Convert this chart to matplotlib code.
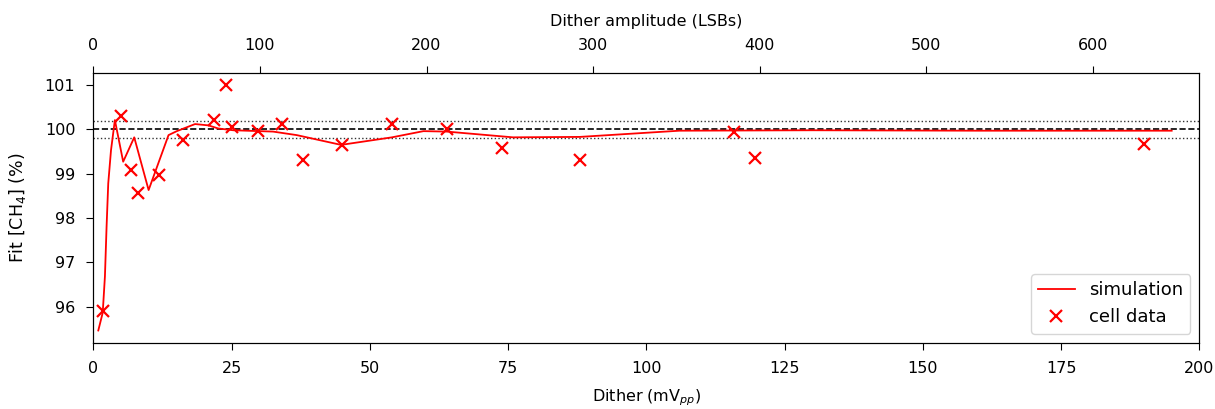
import matplotlib
matplotlib.use("Agg")
import matplotlib.pyplot as plt

# Simulation curve (Dither mV_pp vs Fit [CH4] %)
sim_x = [0.9, 1.7, 2.1, 2.4, 2.7, 3.2, 3.9, 5.4, 7.4, 10.0, 13.6, 15.1, 18.4,
         20.8, 22.6, 25.3, 32.5, 36.8, 44.8, 54.0, 59.7, 63.9, 75.9, 88.0,
         106.0, 130.0, 160.0, 195.0]
sim_y = [95.46, 95.86, 96.68, 97.81, 98.78, 99.53, 100.21, 99.27, 99.82, 98.63,
         99.87, 99.96, 100.12, 100.09, 100.02, 99.98, 99.95, 99.87, 99.65,
         99.82, 99.96, 99.95, 99.82, 99.83, 99.97, 99.98, 99.97, 99.97]

# Cell data
cell_x = [1.7, 4.95, 6.9, 8.1, 11.9, 16.2, 21.8, 24.0, 25.0, 29.8, 34.1,
          38.0, 44.9, 54.0, 63.9, 73.9, 88.0, 115.8, 119.7, 190.0]
cell_y = [95.90, 100.30, 99.08, 98.56, 98.97, 99.76, 100.22, 101.0, 100.06,
          99.97, 100.13, 99.31, 99.65, 100.12, 100.0, 99.59, 99.31, 99.94,
          99.35, 99.68]

mv_per_lsb = 0.3013
ref_level = 100.0
tol_levels = [100.2, 99.8]

fig = plt.figure(figsize=(12.15, 4.09), dpi=100)
ax = fig.add_axes([0.0768, 0.162, 0.9103, 0.660])

ax.axhline(ref_level, color="black", linestyle="--", linewidth=1.2, zorder=1)
for t in tol_levels:
    ax.axhline(t, color="black", linestyle=":", linewidth=1.0, alpha=0.8, zorder=1)

ax.plot(sim_x, sim_y, color="red", linewidth=1.3, label="simulation", zorder=2)
ax.plot(cell_x, cell_y, linestyle="none", marker="x", color="red",
        markersize=9, markeredgewidth=1.6, label="cell data", zorder=3)

ax.set_xlim(0, 200)
ax.set_xticks([0, 25, 50, 75, 100, 125, 150, 175, 200])
ax.set_yticks([96, 97, 98, 99, 100, 101])
ax.tick_params(labelsize=11.5, length=5, pad=8)
ax.set_xlabel("Dither (mV$_{pp}$)", fontsize=11.5, labelpad=8)
ax.set_ylabel("Fit [CH$_4$] (%)", fontsize=12.5, labelpad=12)

leg = ax.legend(loc="lower right", fontsize=13, frameon=True)

ax2 = ax.twiny()
ax2.set_xlim(0, 200 / mv_per_lsb)
ax2.set_xticks([0, 100, 200, 300, 400, 500, 600])
ax2.tick_params(labelsize=11.5, length=5, pad=9)
ax2.set_xlabel("Dither amplitude (LSBs)", fontsize=11.5, labelpad=9)

fig.savefig("out.png", dpi=100)
